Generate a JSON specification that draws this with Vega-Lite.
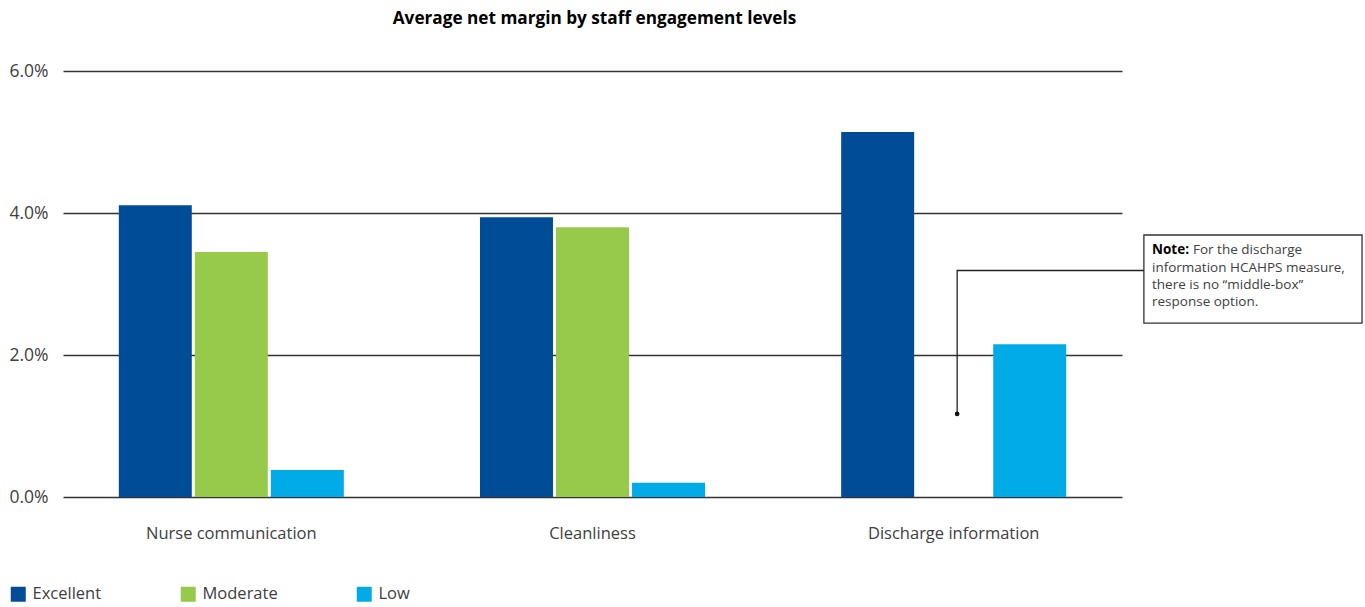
{
  "$schema": "https://vega.github.io/schema/vega-lite/v6.json",
  "width": 1059,
  "height": 426,
  "autosize": {"type": "none"},
  "padding": {"left": 63, "top": 71, "right": 243, "bottom": 110},
  "background": "white",
  "config": {
    "font": "Open Sans",
    "view": {"stroke": null}
  },
  "title": {
    "text": "Average net margin by staff engagement levels",
    "fontSize": 17.2,
    "fontWeight": "bold",
    "color": "#000000",
    "anchor": "middle",
    "offset": 35,
    "dx": 2
  },
  "datasets": {
    "bars": [
      {"measure": "Nurse communication", "level": "Excellent", "margin": 0.0411},
      {"measure": "Nurse communication", "level": "Moderate", "margin": 0.0345},
      {"measure": "Nurse communication", "level": "Low", "margin": 0.0038},
      {"measure": "Cleanliness", "level": "Excellent", "margin": 0.0394},
      {"measure": "Cleanliness", "level": "Moderate", "margin": 0.0380},
      {"measure": "Cleanliness", "level": "Low", "margin": 0.0020},
      {"measure": "Discharge information", "level": "Excellent", "margin": 0.0514},
      {"measure": "Discharge information", "level": "Low", "margin": 0.0215}
    ],
    "box": [{"bx": 3.062, "bx2": 3.68, "by": 0.0369, "by2": 0.0245}],
    "leader": [
      {"lx": 2.533, "ly": 0.0117, "step": 1},
      {"lx": 2.533, "ly": 0.0319, "step": 2},
      {"lx": 3.062, "ly": 0.0319, "step": 3}
    ],
    "dot": [{"lx": 2.533, "ly": 0.0117}],
    "note1": [{"nx": 3.085, "ny": 0.0348, "bold": "Note:", "rest": "For the discharge"}],
    "note2": [{"nx": 3.085, "ny": 0.0323, "lines": ["information HCAHPS measure,", "there is no \u201cmiddle-box\u201d", "response option."]}]
  },
  "resolve": {"scale": {"x": "independent"}, "axis": {"x": "independent"}},
  "layer": [
    {
      "data": {"name": "bars"},
      "mark": {"type": "bar"},
      "encoding": {
        "x": {
          "field": "measure",
          "type": "nominal",
          "sort": ["Nurse communication", "Cleanliness", "Discharge information"],
          "scale": {"paddingInner": 0.377, "paddingOuter": 0.1545},
          "axis": {
            "title": null,
            "labelAngle": 0,
            "domain": false,
            "ticks": false,
            "labelPadding": 28,
            "labelFontSize": 16.5,
            "labelColor": "#404040",
            "labelFont": "Open Sans"
          }
        },
        "xOffset": {
          "field": "level",
          "type": "nominal",
          "sort": ["Excellent", "Moderate", "Low"],
          "scale": {"domain": ["Excellent", "Moderate", "Low"], "paddingInner": 0.04}
        },
        "y": {
          "field": "margin",
          "type": "quantitative",
          "scale": {"domain": [0, 0.06]},
          "axis": {
            "title": null,
            "values": [0, 0.02, 0.04, 0.06],
            "format": ".1%",
            "domain": false,
            "ticks": false,
            "labelPadding": 15,
            "labelFontSize": 17.5,
            "labelColor": "#404040",
            "grid": true,
            "gridColor": "#333333",
            "gridWidth": 1.3,
            "gridOpacity": 1
          }
        },
        "color": {
          "field": "level",
          "type": "nominal",
          "sort": ["Excellent", "Moderate", "Low"],
          "scale": {"domain": ["Excellent", "Moderate", "Low"], "range": ["#004C97", "#97C94B", "#00ABE7"]},
          "legend": {
            "title": null,
            "orient": "none",
            "legendX": -53,
            "legendY": 515,
            "direction": "horizontal",
            "symbolType": "square",
            "symbolSize": 225,
            "symbolStrokeWidth": 0,
            "labelFontSize": 16.5,
            "labelColor": "#404040",
            "labelOffset": 6,
            "gridAlign": "none",
            "columnPadding": 78
          }
        }
      }
    },
    {
      "data": {"name": "box"},
      "mark": {"type": "rect", "fill": "white", "stroke": "#333333", "strokeWidth": 1.3},
      "encoding": {
        "x": {"field": "bx", "type": "quantitative", "scale": {"domain": [0, 3], "nice": false, "zero": false}, "axis": null},
        "x2": {"field": "bx2"},
        "y": {"field": "by", "type": "quantitative"},
        "y2": {"field": "by2"}
      }
    },
    {
      "data": {"name": "leader"},
      "mark": {"type": "line", "color": "#222222", "strokeWidth": 1.3},
      "encoding": {
        "x": {"field": "lx", "type": "quantitative", "scale": {"domain": [0, 3], "nice": false, "zero": false}, "axis": null},
        "y": {"field": "ly", "type": "quantitative"},
        "order": {"field": "step"}
      }
    },
    {
      "data": {"name": "dot"},
      "mark": {"type": "point", "filled": true, "color": "#111111", "size": 22, "opacity": 1},
      "encoding": {
        "x": {"field": "lx", "type": "quantitative", "scale": {"domain": [0, 3], "nice": false, "zero": false}, "axis": null},
        "y": {"field": "ly", "type": "quantitative"}
      }
    },
    {
      "data": {"name": "note1"},
      "mark": {"type": "text", "align": "left", "baseline": "middle", "fontSize": 13.5, "fontWeight": "bold", "color": "#000000"},
      "encoding": {
        "x": {"field": "nx", "type": "quantitative", "scale": {"domain": [0, 3], "nice": false, "zero": false}, "axis": null},
        "y": {"field": "ny", "type": "quantitative"},
        "text": {"field": "bold"}
      }
    },
    {
      "data": {"name": "note1"},
      "mark": {"type": "text", "align": "left", "baseline": "middle", "fontSize": 13.5, "color": "#404040", "dx": 41},
      "encoding": {
        "x": {"field": "nx", "type": "quantitative", "scale": {"domain": [0, 3], "nice": false, "zero": false}, "axis": null},
        "y": {"field": "ny", "type": "quantitative"},
        "text": {"field": "rest"}
      }
    },
    {
      "data": {"name": "note2"},
      "mark": {"type": "text", "align": "left", "baseline": "top", "fontSize": 13.5, "color": "#404040", "lineHeight": 17.4, "dy": -7},
      "encoding": {
        "x": {"field": "nx", "type": "quantitative", "scale": {"domain": [0, 3], "nice": false, "zero": false}, "axis": null},
        "y": {"field": "ny", "type": "quantitative"},
        "text": {"field": "lines"}
      }
    }
  ]
}
